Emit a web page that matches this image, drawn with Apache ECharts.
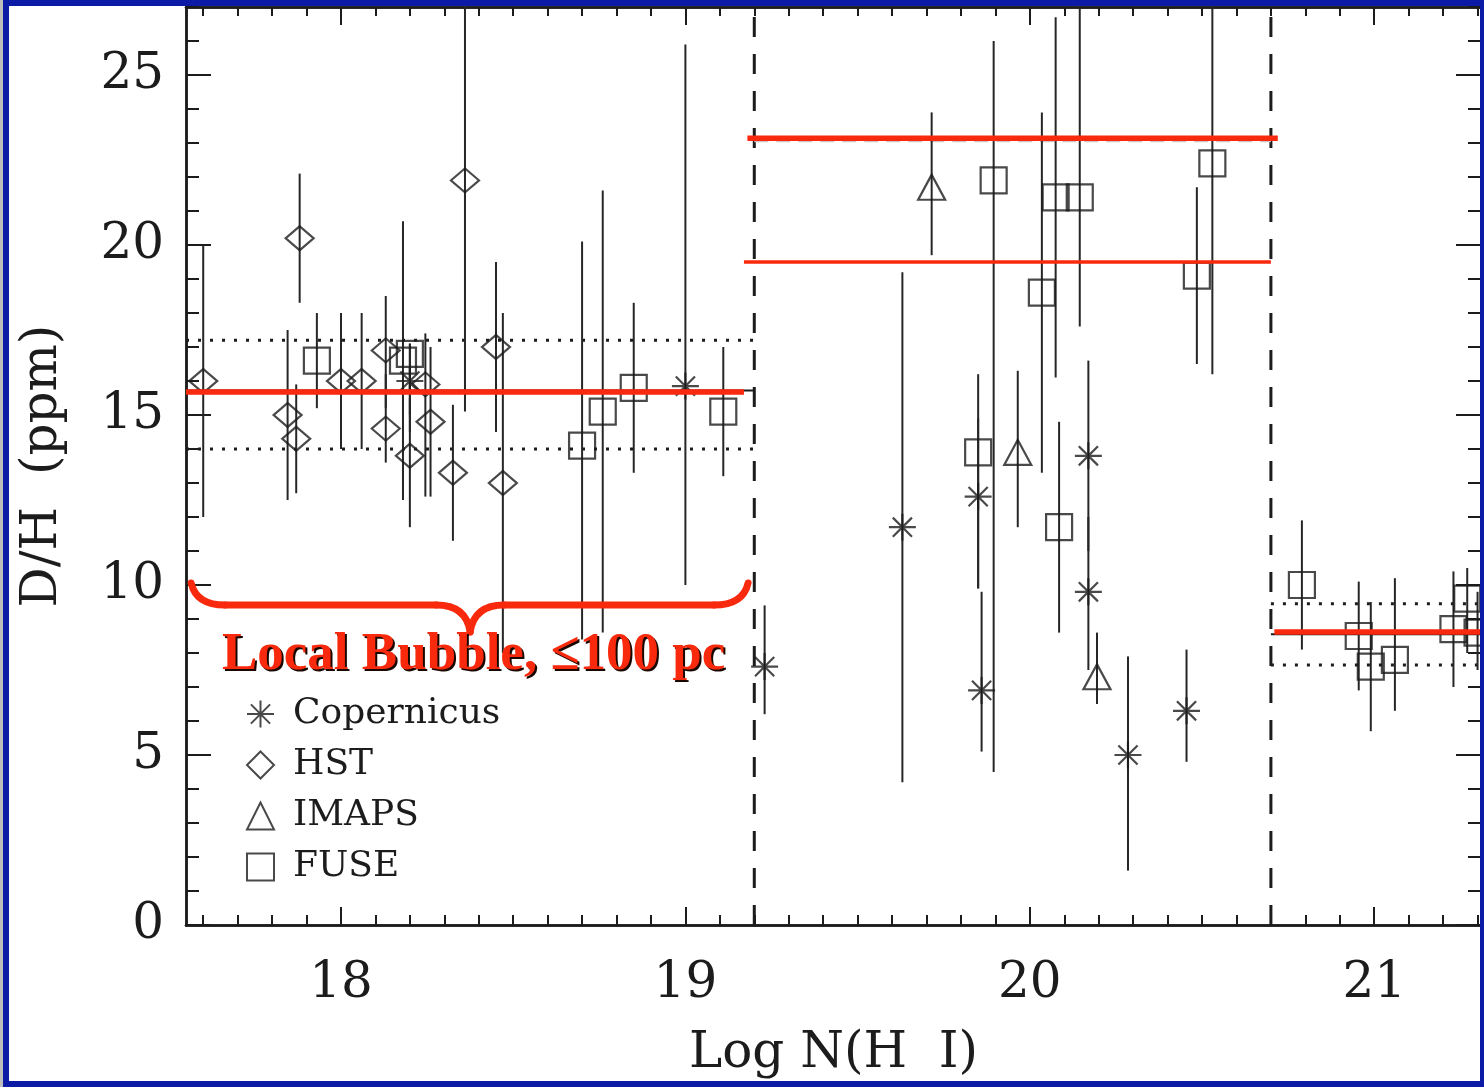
<!DOCTYPE html>
<html>
<head>
<meta charset="utf-8">
<title>D/H vs Log N(H I)</title>
<script src="https://cdn.jsdelivr.net/npm/echarts@6/dist/echarts.min.js"></script>
<style>
    html, body { margin: 0; padding: 0; background: #ffffff; }
    #dh_chart { width: 1484px; height: 1087px; }
</style>
</head>
<body>
<div id="dh_chart"></div>
<script>
// every point: [Log N(H I), D/H (ppm), error bar low, error bar high]
var copernicus_data = [
    [18.20, 16.0, 14.5, 17.1],
    [19.00, 15.85, 10.0, 25.9],
    [19.23, 7.6, 6.2, 9.4],
    [19.63, 11.7, 4.2, 19.2],
    [19.85, 12.6, 9.9, 14.9],
    [19.86, 6.9, 5.1, 9.8],
    [20.17, 13.8, 11.0, 16.6],
    [20.17, 9.8, 7.5, 12.0],
    [20.285, 5.0, 1.6, 7.9],
    [20.455, 6.3, 4.8, 8.1]
];
var hst_data = [
    [17.60, 16.0, 12.0, 20.0],
    [17.88, 20.2, 18.3, 22.1],
    [17.845, 15.0, 12.5, 17.5],
    [17.87, 14.3, 12.7, 15.9],
    [18.00, 16.0, 14.0, 18.0],
    [18.06, 16.0, 14.0, 18.0],
    [18.13, 16.9, 15.2, 18.5],
    [18.13, 14.6, 13.6, 16.2],
    [18.20, 13.8, 11.7, 15.5],
    [18.245, 15.9, 12.6, 17.4],
    [18.26, 14.8, 12.6, 17.0],
    [18.325, 13.3, 11.3, 15.3],
    [18.36, 21.9, 15.1, 27.0],
    [18.45, 17.0, 14.5, 19.5],
    [18.47, 13.0, 8.0, 18.0]
];
var imaps_data = [
    [19.715, 21.7, 19.7, 23.9],
    [19.965, 13.9, 11.7, 16.3],
    [20.195, 7.3, 6.5, 8.6]
];
var fuse_data = [
    [17.93, 16.6, 15.2, 18.0],
    [18.18, 16.6, 12.5, 20.7],
    [18.20, 16.8, 15.0, 17.1],
    [18.70, 14.1, 8.4, 20.1],
    [18.76, 15.1, 8.6, 21.6],
    [18.85, 15.8, 13.3, 18.3],
    [19.11, 15.1, 13.2, 17.0],
    [19.85, 13.9, 9.9, 16.2],
    [19.895, 21.9, 4.5, 26.0],
    [20.035, 18.6, 13.3, 23.9],
    [20.075, 21.4, 16.1, 26.7],
    [20.085, 11.7, 8.6, 14.8],
    [20.145, 21.4, 17.6, 27.0],
    [20.485, 19.1, 16.5, 21.7],
    [20.53, 22.4, 16.2, 27.0],
    [20.79, 10.0, 8.1, 11.9],
    [20.955, 8.5, 6.9, 10.1],
    [20.99, 7.6, 5.7, 9.5],
    [21.06, 7.8, 6.3, 10.2],
    [21.23, 8.7, 7.0, 10.4],
    [21.27, 9.6, 8.0, 10.5],
    [21.30, 8.6, 7.5, 9.8]
];

// region separators (dashed) and horizontal levels: [x from, x to, D/H]
var region_edges = [19.2, 20.7];
var dotted_levels = [[17.55, 19.2, 17.2], [17.55, 19.2, 14.0], [20.7, 21.31, 9.45], [20.7, 21.31, 7.65]];
var faint_levels = [[19.2, 20.7, 23.05]];
var mean_levels = [[17.55, 19.2, 15.72], [20.7, 21.31, 8.55]];
var red_levels = [[17.55, 19.17, 15.68], [19.18, 20.72, 23.14], [19.17, 20.7, 19.5], [20.71, 21.31, 8.62]];

var x_major_ticks = [18, 19, 20, 21];
var y_major_ticks = [0, 5, 10, 15, 20, 25];

var X_MIN = 17.55, X_MAX = 21.31, Y_MIN = 0, Y_MAX = 27;

var x_minor_ticks = [];
for (var t = 176; t <= 213; t++) x_minor_ticks.push(t / 10);
var y_minor_ticks = [];
for (var u = 0; u <= 27; u++) y_minor_ticks.push(u);

var ink = '#1c1c1c';
var red = '#f8290c';
var serif = 'DejaVu Serif';
var red_line_widths = [5.5, 5.5, 3.5, 5.5];

function makeAxis(dim, position, ticks, tickLen, withLabels) {
    var axis = {
        type: 'value',
        gridIndex: 0,
        position: position,
        min: dim === 'x' ? X_MIN : Y_MIN,
        max: dim === 'x' ? X_MAX : Y_MAX,
        axisLine: { show: true, onZero: false, lineStyle: { color: ink, width: 2.5 } },
        axisTick: { show: true, inside: true, length: tickLen, customValues: ticks,
                    lineStyle: { color: ink, width: 2 } },
        axisLabel: { show: false },
        splitLine: { show: false },
        minorTick: { show: false }
    };
    if (withLabels) {
        axis.axisLabel = {
            show: true,
            customValues: ticks,
            color: ink,
            fontFamily: serif,
            fontSize: 50,
            lineHeight: 50,
            margin: dim === 'x' ? 34 : 22
        };
    }
    return axis;
}

var xAxes = [
    makeAxis('x', 'bottom', x_major_ticks, 18, true),
    makeAxis('x', 'bottom', x_minor_ticks, 10, false),
    makeAxis('x', 'top', x_major_ticks, 18, false),
    makeAxis('x', 'top', x_minor_ticks, 9, false)
];
xAxes[0].name = 'Log N(H  I)';
xAxes[0].nameLocation = 'middle';
xAxes[0].nameGap = 104;
xAxes[0].nameMoveOverlap = false;
xAxes[0].nameTextStyle = { color: ink, fontFamily: serif, fontSize: 50, lineHeight: 50 };

var yAxes = [
    makeAxis('y', 'left', y_major_ticks, 25, true),
    makeAxis('y', 'left', y_minor_ticks, 13, false),
    makeAxis('y', 'right', y_major_ticks, 25, false),
    makeAxis('y', 'right', y_minor_ticks, 13, false)
];
yAxes[0].name = 'D/H  (ppm)';
yAxes[0].nameLocation = 'middle';
yAxes[0].nameRotate = 90;
yAxes[0].nameGap = 118;
yAxes[0].nameMoveOverlap = false;
yAxes[0].nameTextStyle = { color: ink, fontFamily: serif, fontSize: 50, lineHeight: 50 };

function hLine(params, api, style) {
    var a = api.coord([api.value(0), api.value(2)]);
    var b = api.coord([api.value(1), api.value(2)]);
    return { type: 'line', shape: { x1: a[0], y1: a[1], x2: b[0], y2: a[1] }, style: style };
}

function renderEdge(params, api) {
    var a = api.coord([api.value(0), Y_MIN]);
    var b = api.coord([api.value(0), Y_MAX]);
    return { type: 'line', shape: { x1: a[0], y1: a[1], x2: b[0], y2: b[1] },
             style: { stroke: ink, lineWidth: 3, lineDash: [20, 17] } };
}

function renderErrBar(params, api) {
    var a = api.coord([api.value(0), api.value(2)]);
    var b = api.coord([api.value(0), api.value(3)]);
    return { type: 'line', shape: { x1: a[0], y1: a[1], x2: b[0], y2: b[1] },
             style: { stroke: '#262626', lineWidth: 2 } };
}

var all_points = copernicus_data.concat(hst_data, imaps_data, fuse_data);

var hollow = { color: 'rgba(0,0,0,0)', borderColor: ink, borderWidth: 2.2 };
var asterisk = 'path://M-1,0L1,0M0,-1L0,1M-0.71,-0.71L0.71,0.71M-0.71,0.71L0.71,-0.71';

var dh_option = {
    backgroundColor: '#ffffff',
    animation: false,
    grid: { left: 186, right: 3, top: 7, bottom: 162, containLabel: false, outerBoundsMode: 'none' },
    xAxis: xAxes,
    yAxis: yAxes,
    legend: {
        data: ['Copernicus', 'HST', 'IMAPS', 'FUSE'],
        orient: 'vertical',
        left: 241,
        top: 691,
        itemWidth: 27,
        itemHeight: 27,
        itemGap: 15,
        selectedMode: false,
        itemStyle: { color: 'rgba(0,0,0,0)', borderColor: ink, borderWidth: 2 },
        textStyle: { color: ink, fontFamily: serif, fontSize: 36, lineHeight: 27, padding: [0, 0, 0, 14] }
    },
    series: [
        { type: 'custom', silent: true, z: 1, renderItem: renderEdge, data: region_edges.map(function (v) { return [v]; }) },
        { type: 'custom', silent: true, z: 1, data: dotted_levels,
          renderItem: function (p, api) { return hLine(p, api, { stroke: ink, lineWidth: 3, lineDash: [3, 9] }); } },
        { type: 'custom', silent: true, z: 1, data: faint_levels,
          renderItem: function (p, api) { return hLine(p, api, { stroke: '#c8c8c8', lineWidth: 2, lineDash: [14, 8] }); } },
        { type: 'custom', silent: true, z: 1, data: mean_levels,
          renderItem: function (p, api) { return hLine(p, api, { stroke: ink, lineWidth: 2 }); } },
        { type: 'custom', silent: true, z: 2, clip: true, renderItem: renderErrBar, data: all_points },
        { name: 'Copernicus', type: 'scatter', z: 3, symbol: asterisk, symbolSize: 27, itemStyle: hollow, data: copernicus_data },
        { name: 'HST', type: 'scatter', z: 3, symbol: 'diamond', symbolSize: [28, 24], itemStyle: hollow, data: hst_data },
        { name: 'IMAPS', type: 'scatter', z: 3, symbol: 'triangle', symbolSize: [27, 25], itemStyle: hollow, data: imaps_data },
        { name: 'FUSE', type: 'scatter', z: 3, symbol: 'rect', symbolSize: 26, itemStyle: hollow, data: fuse_data },
        { type: 'custom', silent: true, z: 10, data: red_levels,
          renderItem: function (p, api) {
              return hLine(p, api, { stroke: red, lineWidth: red_line_widths[p.dataIndex] });
          } }
    ]
};

var dh_chart = echarts.init(document.getElementById('dh_chart'), null, { renderer: 'canvas' });
dh_chart.setOption(dh_option);

// the red brace under the Local Bubble points, and the frame
function cp(v) { return dh_chart.convertToPixel({ xAxisIndex: 0, yAxisIndex: 0 }, v); }
var brace = { from: 17.565, to: 19.182, tip: 18.375, top: 10.06, bar: 9.41, point: 8.62 };
var L = cp([brace.from, brace.top]), R = cp([brace.to, brace.top]), T = cp([brace.tip, brace.point]);
var yb = cp([brace.tip, brace.bar])[1];
var curl = 34;
var braceStyle = { fill: 'none', stroke: red, lineWidth: 7, lineCap: 'round' };
var brace_parts = [
    { type: 'bezierCurve', shape: { x1: L[0], y1: L[1], x2: L[0] + curl, y2: yb, cpx1: L[0] + 5, cpy1: yb } },
    { type: 'line', shape: { x1: L[0] + curl, y1: yb, x2: T[0] - curl, y2: yb } },
    { type: 'bezierCurve', shape: { x1: T[0] - curl, y1: yb, x2: T[0], y2: T[1], cpx1: T[0] - 4, cpy1: yb } },
    { type: 'bezierCurve', shape: { x1: T[0], y1: T[1], x2: T[0] + curl, y2: yb, cpx1: T[0] + 4, cpy1: yb } },
    { type: 'line', shape: { x1: T[0] + curl, y1: yb, x2: R[0] - curl, y2: yb } },
    { type: 'bezierCurve', shape: { x1: R[0] - curl, y1: yb, x2: R[0], y2: R[1], cpx1: R[0] - 5, cpy1: yb } }
];
brace_parts.forEach(function (el) { el.z = 50; el.silent = true; el.style = braceStyle; });

var blue = '#0b1ba6';
var frame = [
    { type: 'rect', z: 100, silent: true, shape: { x: 0, y: 0, width: 9, height: 1087 }, style: { fill: blue } },
    { type: 'rect', z: 101, silent: true, shape: { x: 0, y: 0, width: 3, height: 1087 }, style: { fill: '#bdbdbd' } },
    { type: 'rect', z: 100, silent: true, shape: { x: 0, y: 0, width: 1484, height: 6 }, style: { fill: blue } },
    { type: 'rect', z: 100, silent: true, shape: { x: 1480, y: 0, width: 4, height: 1087 }, style: { fill: blue } },
    { type: 'rect', z: 100, silent: true, shape: { x: 0, y: 1081, width: 1484, height: 6 }, style: { fill: blue } }
];
var label = [
    { type: 'text', z: 50, silent: true, x: 224, y: 657,
      style: { text: 'Local Bubble, \u2264100 pc', font: 'bold 53px "Liberation Serif"', fill: '#1a0800', verticalAlign: 'middle' } },
    { type: 'text', z: 51, silent: true, x: 222, y: 655,
      style: { text: 'Local Bubble, \u2264100 pc', font: 'bold 53px "Liberation Serif"', fill: red, verticalAlign: 'middle' } }
];

dh_chart.setOption({ graphic: brace_parts.concat(label, frame) });
</script>
</body>
</html>
